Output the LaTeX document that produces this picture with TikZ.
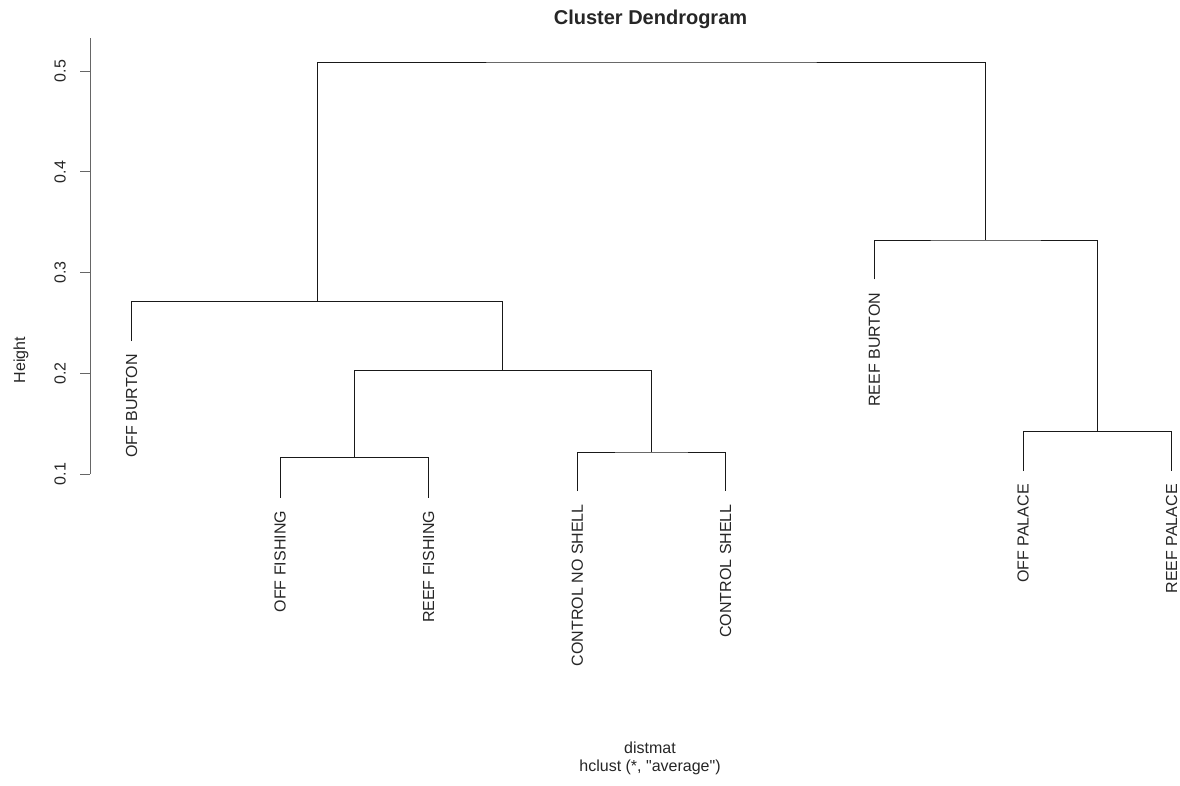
\documentclass[tikz,border=0pt]{standalone}
\usepackage{fontspec}
\setmainfont{Liberation Sans}
\newfontfamily\rawfont{Liberation Sans}
\usetikzlibrary{positioning}

\begin{document}
\begin{tikzpicture}[
  x=0.75pt, y=-0.75pt,
  font=\fontsize{12}{14}\selectfont,
  link/.style={draw=black!90, line width=0.75pt},
  axisline/.style={draw=black!60, line width=0.75pt},
  leaf/.style={rotate=90, anchor=east, inner sep=0pt, text=black!85},
  ticklab/.style={rotate=90, inner sep=0pt, text=black!85},
  plaintxt/.style={inner sep=0pt, text=black!85}]

\useasboundingbox (0,0) rectangle (1180,785);

% leaf ends (hang below their merge)
\coordinate (offbur) at (131.7,341.0);
\coordinate (offfis) at (280.0,497.7);
\coordinate (reefis) at (428.7,497.7);
\coordinate (connos) at (577.3,491.0);
\coordinate (consh)  at (725.7,491.0);
\coordinate (reebur) at (874.3,279.3);
\coordinate (offpal) at (1023.0,471.0);
\coordinate (reepal) at (1171.7,471.0);

% merges
\coordinate (fish)  at (354.3,457.7);
\coordinate (ctrl)  at (651.5,452.0);
\coordinate (mid)   at (502.9,370.7);
\coordinate (left)  at (317.3,301.7);
\coordinate (pal)   at (1097.3,431.3);
\coordinate (right) at (985.8,240.0);
\coordinate (top)   at (651.5,62.0);

\draw[link] (offfis) |- (fish) -| (reefis);
\draw[link] (connos) |- (ctrl) -| (consh);
\draw[link] (fish) |- (mid) -| (ctrl);
\draw[link] (offbur) |- (left) -| (mid);
\draw[link] (offpal) |- (pal) -| (reepal);
\draw[link] (reebur) |- (right) -| (pal);
\draw[link] (left) |- (top) -| (right);

% leaf labels
\node[leaf] (l-offbur) at (131.7,354.0) {OFF BURTON};
\node[leaf] (l-offfis) at (280.0,510.7) {OFF FISHING};
\node[leaf] (l-reefis) at (428.7,510.7) {REEF FISHING};
\node[leaf] (l-connos) at (577.3,504.0) {CONTROL NO SHELL};
\node[leaf] (l-consh)  at (725.7,504.0) {CONTROL SHELL};
\node[leaf] (l-reebur) at (874.3,292.3) {REEF BURTON};
\node[leaf] (l-offpal) at (1023.0,484.0) {OFF PALACE};
\node[leaf] (l-reepal) at (1171.7,484.0) {REEF PALACE};

% y axis
\draw[axisline] (90,38) -- (90,474);
\foreach \v/\y in {0.1/474.0, 0.2/373.3, 0.3/272.6, 0.4/171.9, 0.5/71.2}{
  \draw[axisline] (90,\y) -- (80,\y);
  \node[ticklab] at (60,\y) {\v};}
\node[ticklab] (ylab) at (21,360) {Height};

\node[plaintxt, font=\fontsize{15}{18}\selectfont\bfseries] (title) at (650.5,19) {Cluster Dendrogram};
\node[plaintxt] (xlab) at (650,748) {distmat};
\node[plaintxt, font=\fontsize{12}{14}\rawfont] (sub) at (650,767) {hclust (*, "average")};
\end{tikzpicture}
\end{document}
